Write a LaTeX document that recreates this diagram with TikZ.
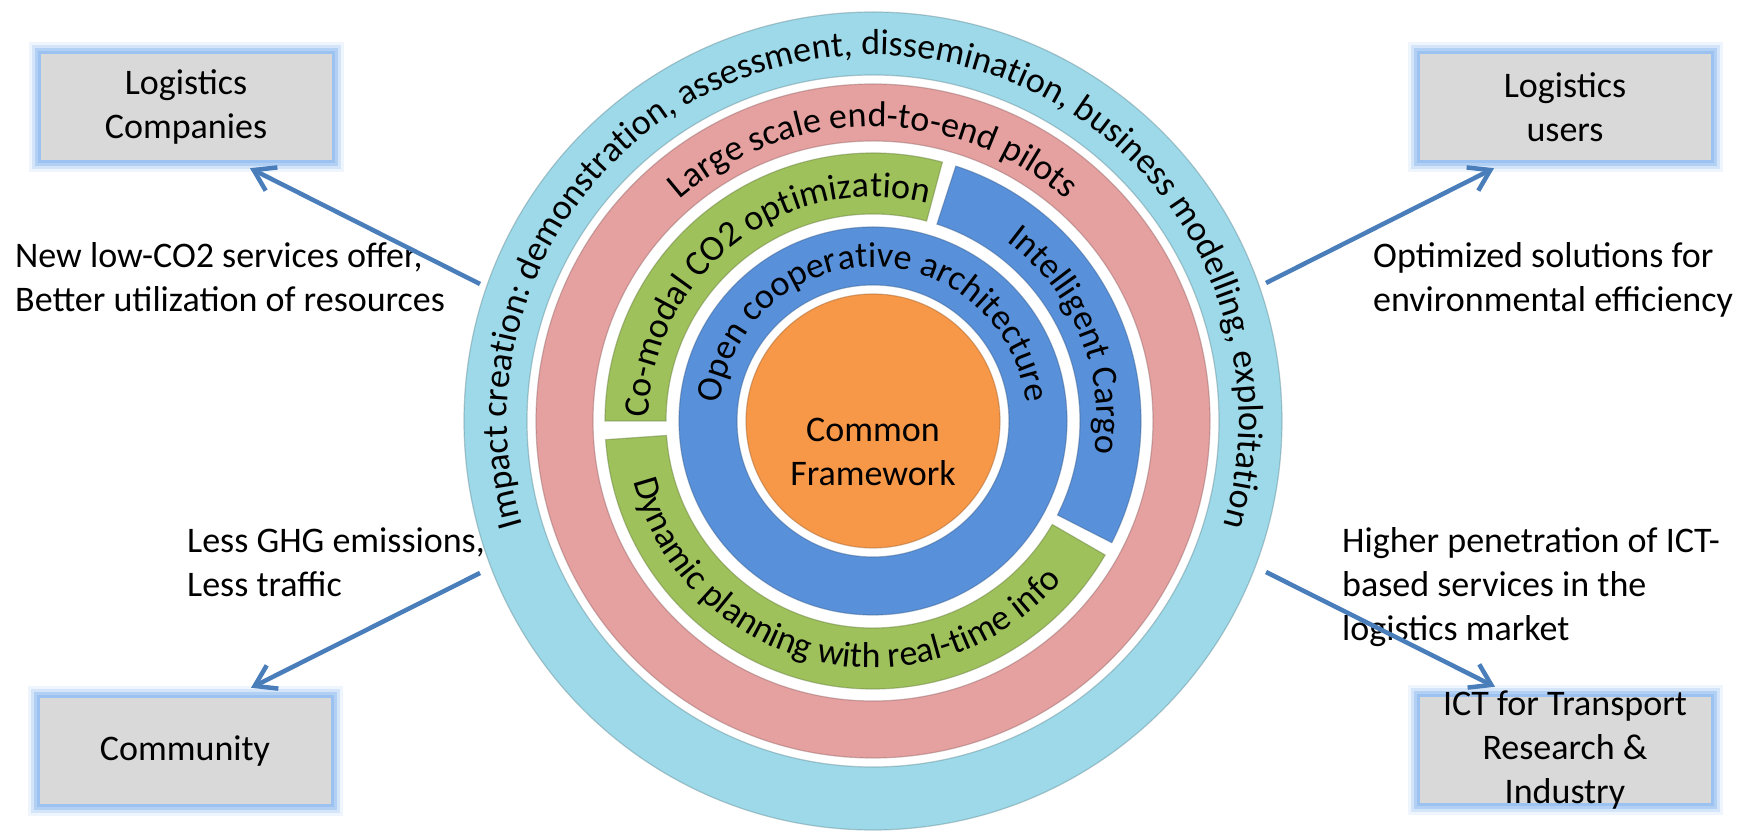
\documentclass[tikz,border=0pt]{standalone}
\usepackage{fontspec}
\setmainfont{Carlito}
\usetikzlibrary{arrows.meta}
\usetikzlibrary{decorations.text}
\usetikzlibrary{positioning}

\definecolor{ringcyan}{RGB}{157,217,232}
\definecolor{ringpink}{RGB}{229,160,160}
\definecolor{ringgreen}{RGB}{158,193,92}
\definecolor{ringblue}{RGB}{88,145,218}
\definecolor{coreorange}{RGB}{247,152,72}
\definecolor{boxgray}{RGB}{217,217,217}
\definecolor{glowblue}{RGB}{150,190,240}
\definecolor{arrowblue}{RGB}{74,126,187}

\newcommand\bigfont{\fontsize{36}{44}\selectfont}

\tikzset{
  % stakeholder boxes with a soft blue glow
  stake/.style = {
    rectangle,
    fill = boxgray,
    minimum width = 291pt,
    minimum height = 106pt,
    inner sep = 0pt,
    align = center,
    font = \bigfont,
    preaction = {draw = glowblue, line width = 24pt, opacity = 0.15},
    preaction = {draw = glowblue, line width = 18pt, opacity = 0.3},
    preaction = {draw = glowblue, line width = 12pt, opacity = 0.55},
    preaction = {draw = glowblue, line width = 6pt, opacity = 0.8}
  },
  % effect labels next to the arrows
  effect/.style = {
    anchor = north west,
    inner sep = 0pt,
    align = left,
    font = \bigfont
  },
  % arrows going out of the rings
  arr/.style = {
    draw = arrowblue,
    line width = 4.5pt,
    -{Straight Barb[length=20pt, width=26pt]}
  },
  % filled ring or ring part
  ring/.style = {
    fill = #1,
    draw = #1!65!black,
    draw opacity = 0.45,
    line width = 1.2pt,
    even odd rule
  },
  % text bent along a ring
  ringtext/.style = {
    decorate,
    decoration = {
      text along path,
      text = {|\bigfont|#1},
      text align = center
    }
  }
}

\begin{document}
\begin{tikzpicture}[x=1pt, y=1pt]
  \useasboundingbox (0,0) rectangle (1757,832);
  \coordinate (c) at (873,411);

  % rings, from outside in
  \path[ring=ringcyan] (c) circle[radius=409] (c) circle[radius=346];
  \path[ring=ringpink] (c) circle[radius=337] (c) circle[radius=280];
  % middle ring in three parts
  \path[ring=ringgreen] ([shift={(75:268)}]c) arc[start angle=75, end angle=180, radius=268]
    -- ([shift={(180:207)}]c) arc[start angle=180, end angle=75, radius=207] -- cycle;
  \path[ring=ringblue] ([shift={(72:268)}]c) arc[start angle=72, end angle=-27, radius=268]
    -- ([shift={(-27:207)}]c) arc[start angle=-27, end angle=72, radius=207] -- cycle;
  \path[ring=ringgreen] ([shift={(184:268)}]c) arc[start angle=184, end angle=330, radius=268]
    -- ([shift={(330:207)}]c) arc[start angle=330, end angle=184, radius=207] -- cycle;
  \path[ring=ringblue] (c) circle[radius=194] (c) circle[radius=136];
  \node[circle, fill=coreorange, draw=coreorange!65!black, draw opacity=0.45, line width=1.2pt,
        minimum size=254pt, inner sep=0pt] (core) at (c) {};
  \node[font=\bigfont, align=center] (fw) at ([yshift=-31]core.center) {Common\\Framework};

  % texts along the rings
  \path[ringtext={Impact creation: demonstration, assessment, dissemination, business modelling, exploitation}]
    ([shift={(200:366)}]c) arc[start angle=200, end angle=-20, radius=366];
  \path[ringtext={Large scale end-to-end pilots}]
    ([shift={(170:294)}]c) arc[start angle=170, end angle=10, radius=294];
  \path[ringtext={Co-modal CO2 optimization}]
    ([shift={(180:224)}]c) arc[start angle=180, end angle=75, radius=224];
  \path[ringtext={Intelligent Cargo}]
    ([shift={(72:224)}]c) arc[start angle=72, end angle=-27, radius=224];
  \path[ringtext={Dynamic planning with real-time info}]
    ([shift={(184:247)}]c) arc[start angle=184, end angle=330, radius=247];
  \path[ringtext={Open cooperative architecture}]
    ([shift={(180:154)}]c) arc[start angle=180, end angle=0, radius=154];

  % stakeholders
  \node[stake] (lc) at (186,725) {Logistics\\Companies};
  \node[stake] (lu) at (1565,725) {Logistics\\users};
  \node[stake] (cm) at (185,81) {Community};
  \node[stake] (ict) at (1565,82) {};
  \node[font=\bigfont, align=center] (ictname) at (ict.center) {ICT for Transport\\Research \&\\Industry};

  % effects
  \node[effect] (fx1) at (15,590) {New low-CO2 services offer,\\Better utilization of resources};
  \node[effect] (fx2) at (1373,590) {Optimized solutions for\\environmental efficiency};
  \node[effect] (fx3) at (187,304) {Less GHG emissions,\\Less traffic};
  \node[effect] (fx4) at (1342,305) {Higher penetration of ICT-\\based services in the\\logistics market};

  % arrows from the rings to the stakeholders
  \coordinate (o1) at (480,548);
  \coordinate (o2) at (1266,549);
  \coordinate (o3) at (480,259);
  \coordinate (o4) at (1266,260);
  \draw[arr] (o1) -- ([shift={(64,-8)}]lc.south);
  \draw[arr] (o2) -- ([shift={(-71,-8)}]lu.south);
  \draw[arr] (o3) -- ([shift={(66,10)}]cm.north);
  \draw[arr] (o4) -- ([shift={(-70,10)}]ict.north);
\end{tikzpicture}
\end{document}
